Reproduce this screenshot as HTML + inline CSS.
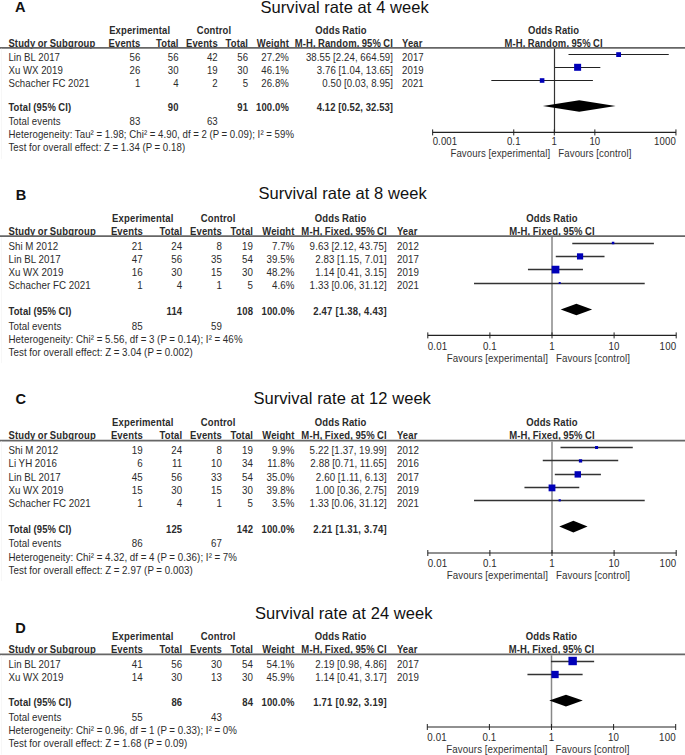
<!DOCTYPE html>
<html><head><meta charset="utf-8"><style>
html,body{margin:0;padding:0;background:#fff;width:685px;height:755px;overflow:hidden}
svg{display:block;font-family:"Liberation Sans",sans-serif}
</style></head><body>
<svg width="685" height="755" viewBox="0 0 685 755">
<rect width="685" height="755" fill="#fff"/>
<text transform="translate(260.50,12.60) scale(1,1.0)" font-size="16.5" letter-spacing="0.06" fill="#111">Survival rate at 4 week</text>
<text transform="translate(15.00,12.20) scale(1,1.0)" font-size="14.6" font-weight="bold" fill="#111">A</text>
<text transform="translate(139.70,34.10) scale(1,1.08)" font-size="9.45" text-anchor="middle" font-weight="bold" letter-spacing="0.15" word-spacing="-0.5" fill="#2b2b2b">Experimental</text>
<text transform="translate(214.00,34.10) scale(1,1.08)" font-size="9.45" text-anchor="middle" font-weight="bold" letter-spacing="0.15" word-spacing="-0.5" fill="#2b2b2b">Control</text>
<text transform="translate(341.00,34.10) scale(1,1.08)" font-size="9.45" text-anchor="middle" font-weight="bold" letter-spacing="0.15" word-spacing="-0.5" fill="#2b2b2b">Odds Ratio</text>
<text transform="translate(553.60,34.10) scale(1,1.08)" font-size="9.45" text-anchor="middle" font-weight="bold" letter-spacing="0.15" word-spacing="-0.5" fill="#2b2b2b">Odds Ratio</text>
<text transform="translate(8.40,46.50) scale(1,1.08)" font-size="9.45" font-weight="bold" letter-spacing="0.15" word-spacing="-0.5" fill="#2b2b2b">Study or Subgroup</text>
<text transform="translate(140.40,46.50) scale(1,1.08)" font-size="9.45" text-anchor="end" font-weight="bold" letter-spacing="0.15" word-spacing="-0.5" fill="#2b2b2b">Events</text>
<text transform="translate(178.60,46.50) scale(1,1.08)" font-size="9.45" text-anchor="end" font-weight="bold" letter-spacing="0.15" word-spacing="-0.5" fill="#2b2b2b">Total</text>
<text transform="translate(217.80,46.50) scale(1,1.08)" font-size="9.45" text-anchor="end" font-weight="bold" letter-spacing="0.15" word-spacing="-0.5" fill="#2b2b2b">Events</text>
<text transform="translate(248.10,46.50) scale(1,1.08)" font-size="9.45" text-anchor="end" font-weight="bold" letter-spacing="0.15" word-spacing="-0.5" fill="#2b2b2b">Total</text>
<text transform="translate(289.00,46.50) scale(1,1.08)" font-size="9.45" text-anchor="end" font-weight="bold" letter-spacing="0.15" word-spacing="-0.5" fill="#2b2b2b">Weight</text>
<text transform="translate(393.10,46.50) scale(1,1.08)" font-size="9.45" text-anchor="end" font-weight="bold" letter-spacing="0.15" word-spacing="-0.5" fill="#2b2b2b">M-H, Random, 95% CI</text>
<text transform="translate(402.00,46.50) scale(1,1.08)" font-size="9.45" font-weight="bold" letter-spacing="0.15" word-spacing="-0.5" fill="#2b2b2b">Year</text>
<text transform="translate(553.60,46.50) scale(1,1.08)" font-size="9.45" text-anchor="middle" font-weight="bold" letter-spacing="0.15" word-spacing="-0.5" fill="#2b2b2b">M-H, Random, 95% CI</text>
<line x1="0.00" y1="47.80" x2="685.00" y2="47.80" stroke="#666" stroke-width="1.8"/>
<line x1="1.50" y1="48.80" x2="1.50" y2="159.20" stroke="#f7f7f7" stroke-width="1"/>
<line x1="554.50" y1="48.60" x2="554.50" y2="132.40" stroke="#333" stroke-width="1.2"/>
<text transform="translate(8.40,61.00) scale(1,1.08)" font-size="9.62" letter-spacing="0.11" word-spacing="-0.25" fill="#2b2b2b">Lin BL 2017</text>
<text transform="translate(140.40,61.00) scale(1,1.08)" font-size="9.62" text-anchor="end" letter-spacing="0.11" word-spacing="-0.25" fill="#2b2b2b">56</text>
<text transform="translate(178.60,61.00) scale(1,1.08)" font-size="9.62" text-anchor="end" letter-spacing="0.11" word-spacing="-0.25" fill="#2b2b2b">56</text>
<text transform="translate(217.80,61.00) scale(1,1.08)" font-size="9.62" text-anchor="end" letter-spacing="0.11" word-spacing="-0.25" fill="#2b2b2b">42</text>
<text transform="translate(248.10,61.00) scale(1,1.08)" font-size="9.62" text-anchor="end" letter-spacing="0.11" word-spacing="-0.25" fill="#2b2b2b">56</text>
<text transform="translate(289.00,61.00) scale(1,1.08)" font-size="9.62" text-anchor="end" letter-spacing="0.11" word-spacing="-0.25" fill="#2b2b2b">27.2%</text>
<text transform="translate(393.10,61.00) scale(1,1.08)" font-size="9.62" text-anchor="end" letter-spacing="0.11" word-spacing="-0.25" fill="#2b2b2b">38.55 [2.24, 664.59]</text>
<text transform="translate(402.00,61.00) scale(1,1.08)" font-size="9.62" letter-spacing="0.11" word-spacing="-0.25" fill="#2b2b2b">2017</text>
<line x1="568.50" y1="54.50" x2="668.75" y2="54.50" stroke="#222" stroke-width="1.15"/>
<rect x="616.21" y="52.20" width="4.80" height="4.80" fill="#0000b8"/>
<text transform="translate(8.40,74.10) scale(1,1.08)" font-size="9.62" letter-spacing="0.11" word-spacing="-0.25" fill="#2b2b2b">Xu WX 2019</text>
<text transform="translate(140.40,74.10) scale(1,1.08)" font-size="9.62" text-anchor="end" letter-spacing="0.11" word-spacing="-0.25" fill="#2b2b2b">26</text>
<text transform="translate(178.60,74.10) scale(1,1.08)" font-size="9.62" text-anchor="end" letter-spacing="0.11" word-spacing="-0.25" fill="#2b2b2b">30</text>
<text transform="translate(217.80,74.10) scale(1,1.08)" font-size="9.62" text-anchor="end" letter-spacing="0.11" word-spacing="-0.25" fill="#2b2b2b">19</text>
<text transform="translate(248.10,74.10) scale(1,1.08)" font-size="9.62" text-anchor="end" letter-spacing="0.11" word-spacing="-0.25" fill="#2b2b2b">30</text>
<text transform="translate(289.00,74.10) scale(1,1.08)" font-size="9.62" text-anchor="end" letter-spacing="0.11" word-spacing="-0.25" fill="#2b2b2b">46.1%</text>
<text transform="translate(393.10,74.10) scale(1,1.08)" font-size="9.62" text-anchor="end" letter-spacing="0.11" word-spacing="-0.25" fill="#2b2b2b">3.76 [1.04, 13.65]</text>
<text transform="translate(402.00,74.10) scale(1,1.08)" font-size="9.62" letter-spacing="0.11" word-spacing="-0.25" fill="#2b2b2b">2019</text>
<line x1="554.99" y1="67.50" x2="600.33" y2="67.50" stroke="#222" stroke-width="1.15"/>
<rect x="574.12" y="63.80" width="7.00" height="7.00" fill="#0000b8"/>
<text transform="translate(8.40,87.00) scale(1,1.08)" font-size="9.62" letter-spacing="0.11" word-spacing="-0.25" fill="#2b2b2b">Schacher FC 2021</text>
<text transform="translate(140.40,87.00) scale(1,1.08)" font-size="9.62" text-anchor="end" letter-spacing="0.11" word-spacing="-0.25" fill="#2b2b2b">1</text>
<text transform="translate(178.60,87.00) scale(1,1.08)" font-size="9.62" text-anchor="end" letter-spacing="0.11" word-spacing="-0.25" fill="#2b2b2b">4</text>
<text transform="translate(217.80,87.00) scale(1,1.08)" font-size="9.62" text-anchor="end" letter-spacing="0.11" word-spacing="-0.25" fill="#2b2b2b">2</text>
<text transform="translate(248.10,87.00) scale(1,1.08)" font-size="9.62" text-anchor="end" letter-spacing="0.11" word-spacing="-0.25" fill="#2b2b2b">5</text>
<text transform="translate(289.00,87.00) scale(1,1.08)" font-size="9.62" text-anchor="end" letter-spacing="0.11" word-spacing="-0.25" fill="#2b2b2b">26.8%</text>
<text transform="translate(393.10,87.00) scale(1,1.08)" font-size="9.62" text-anchor="end" letter-spacing="0.11" word-spacing="-0.25" fill="#2b2b2b">0.50 [0.03, 8.95]</text>
<text transform="translate(402.00,87.00) scale(1,1.08)" font-size="9.62" letter-spacing="0.11" word-spacing="-0.25" fill="#2b2b2b">2021</text>
<line x1="491.33" y1="80.50" x2="592.90" y2="80.50" stroke="#222" stroke-width="1.15"/>
<rect x="539.79" y="78.20" width="4.60" height="4.60" fill="#0000b8"/>
<text transform="translate(8.40,111.40) scale(1,1.08)" font-size="9.45" font-weight="bold" letter-spacing="0.15" word-spacing="-0.5" fill="#2b2b2b">Total (95% CI)</text>
<text transform="translate(178.60,111.40) scale(1,1.08)" font-size="9.45" text-anchor="end" font-weight="bold" letter-spacing="0.15" word-spacing="-0.5" fill="#2b2b2b">90</text>
<text transform="translate(248.10,111.40) scale(1,1.08)" font-size="9.45" text-anchor="end" font-weight="bold" letter-spacing="0.15" word-spacing="-0.5" fill="#2b2b2b">91</text>
<text transform="translate(289.00,111.40) scale(1,1.08)" font-size="9.45" text-anchor="end" font-weight="bold" letter-spacing="0.15" word-spacing="-0.5" fill="#2b2b2b">100.0%</text>
<text transform="translate(393.10,111.40) scale(1,1.08)" font-size="9.45" text-anchor="end" font-weight="bold" letter-spacing="0.1" fill="#2b2b2b">4.12 [0.52, 32.53]</text>
<text transform="translate(8.40,125.20) scale(1,1.08)" font-size="9.62" letter-spacing="0.11" word-spacing="-0.25" fill="#2b2b2b">Total events</text>
<text transform="translate(140.40,125.20) scale(1,1.08)" font-size="9.62" text-anchor="end" letter-spacing="0.11" word-spacing="-0.25" fill="#2b2b2b">83</text>
<text transform="translate(217.80,125.20) scale(1,1.08)" font-size="9.62" text-anchor="end" letter-spacing="0.11" word-spacing="-0.25" fill="#2b2b2b">63</text>
<text transform="translate(8.40,138.40) scale(1,1.08)" font-size="9.62" letter-spacing="0.11" word-spacing="-0.25" fill="#2b2b2b">Heterogeneity: Tau² = 1.98; Chi² = 4.90, df = 2 (P = 0.09); I² = 59%</text>
<text transform="translate(8.40,151.20) scale(1,1.08)" font-size="9.62" letter-spacing="0.11" word-spacing="-0.25" fill="#2b2b2b">Test for overall effect: Z = 1.34 (P = 0.18)</text>
<polygon points="542.78,106.00 579.23,100.20 615.62,106.00 579.23,111.80" fill="#000"/>
<line x1="432.65" y1="132.40" x2="675.95" y2="132.40" stroke="#222" stroke-width="1.2"/>
<line x1="432.65" y1="129.40" x2="432.65" y2="135.40" stroke="#222" stroke-width="1"/>
<text transform="translate(432.65,144.60) scale(1,1.08)" font-size="9.62" letter-spacing="0.11" word-spacing="-0.25" fill="#2b2b2b">0.001</text>
<line x1="513.75" y1="129.40" x2="513.75" y2="135.40" stroke="#222" stroke-width="1"/>
<text transform="translate(513.75,144.60) scale(1,1.08)" font-size="9.62" text-anchor="middle" letter-spacing="0.11" word-spacing="-0.25" fill="#2b2b2b">0.1</text>
<line x1="554.30" y1="129.40" x2="554.30" y2="135.40" stroke="#222" stroke-width="1"/>
<text transform="translate(554.30,144.60) scale(1,1.08)" font-size="9.62" text-anchor="middle" letter-spacing="0.11" word-spacing="-0.25" fill="#2b2b2b">1</text>
<line x1="594.85" y1="129.40" x2="594.85" y2="135.40" stroke="#222" stroke-width="1"/>
<text transform="translate(594.85,144.60) scale(1,1.08)" font-size="9.62" text-anchor="middle" letter-spacing="0.11" word-spacing="-0.25" fill="#2b2b2b">10</text>
<line x1="675.95" y1="129.40" x2="675.95" y2="135.40" stroke="#222" stroke-width="1"/>
<text transform="translate(675.95,144.60) scale(1,1.08)" font-size="9.62" text-anchor="end" letter-spacing="0.11" word-spacing="-0.25" fill="#2b2b2b">1000</text>
<text transform="translate(550.30,156.90) scale(1,1.08)" font-size="9.62" text-anchor="end" letter-spacing="0.11" word-spacing="-0.25" fill="#333">Favours [experimental]</text>
<text transform="translate(558.30,156.90) scale(1,1.08)" font-size="9.62" letter-spacing="0.11" word-spacing="-0.25" fill="#333">Favours [control]</text>
<text transform="translate(258.40,199.10) scale(1,1.0)" font-size="16.5" letter-spacing="0.06" fill="#111">Survival rate at 8 week</text>
<text transform="translate(15.80,199.80) scale(1,1.0)" font-size="14.6" font-weight="bold" fill="#111">B</text>
<text transform="translate(142.80,221.90) scale(1,1.08)" font-size="9.5" text-anchor="middle" font-weight="bold" letter-spacing="0.15" word-spacing="-0.5" fill="#2b2b2b">Experimental</text>
<text transform="translate(218.20,221.90) scale(1,1.08)" font-size="9.5" text-anchor="middle" font-weight="bold" letter-spacing="0.15" word-spacing="-0.5" fill="#2b2b2b">Control</text>
<text transform="translate(340.60,221.90) scale(1,1.08)" font-size="9.5" text-anchor="middle" font-weight="bold" letter-spacing="0.15" word-spacing="-0.5" fill="#2b2b2b">Odds Ratio</text>
<text transform="translate(552.00,221.90) scale(1,1.08)" font-size="9.5" text-anchor="middle" font-weight="bold" letter-spacing="0.15" word-spacing="-0.5" fill="#2b2b2b">Odds Ratio</text>
<text transform="translate(8.40,234.90) scale(1,1.08)" font-size="9.5" font-weight="bold" letter-spacing="0.15" word-spacing="-0.5" fill="#2b2b2b">Study or Subgroup</text>
<text transform="translate(142.90,234.90) scale(1,1.08)" font-size="9.5" text-anchor="end" font-weight="bold" letter-spacing="0.15" word-spacing="-0.5" fill="#2b2b2b">Events</text>
<text transform="translate(182.30,234.90) scale(1,1.08)" font-size="9.5" text-anchor="end" font-weight="bold" letter-spacing="0.15" word-spacing="-0.5" fill="#2b2b2b">Total</text>
<text transform="translate(222.00,234.90) scale(1,1.08)" font-size="9.5" text-anchor="end" font-weight="bold" letter-spacing="0.15" word-spacing="-0.5" fill="#2b2b2b">Events</text>
<text transform="translate(253.10,234.90) scale(1,1.08)" font-size="9.5" text-anchor="end" font-weight="bold" letter-spacing="0.15" word-spacing="-0.5" fill="#2b2b2b">Total</text>
<text transform="translate(294.60,234.90) scale(1,1.08)" font-size="9.5" text-anchor="end" font-weight="bold" letter-spacing="0.15" word-spacing="-0.5" fill="#2b2b2b">Weight</text>
<text transform="translate(386.90,234.90) scale(1,1.08)" font-size="9.5" text-anchor="end" font-weight="bold" letter-spacing="0.15" word-spacing="-0.5" fill="#2b2b2b">M-H, Fixed, 95% CI</text>
<text transform="translate(396.90,234.90) scale(1,1.08)" font-size="9.5" font-weight="bold" letter-spacing="0.15" word-spacing="-0.5" fill="#2b2b2b">Year</text>
<text transform="translate(552.00,234.90) scale(1,1.08)" font-size="9.5" text-anchor="middle" font-weight="bold" letter-spacing="0.15" word-spacing="-0.5" fill="#2b2b2b">M-H, Fixed, 95% CI</text>
<line x1="0.00" y1="236.20" x2="685.00" y2="236.20" stroke="#666" stroke-width="1.8"/>
<line x1="1.50" y1="237.20" x2="1.50" y2="363.20" stroke="#f7f7f7" stroke-width="1"/>
<line x1="552.00" y1="237.00" x2="552.00" y2="335.40" stroke="#888" stroke-width="1.5"/>
<text transform="translate(8.40,249.90) scale(1,1.08)" font-size="9.75" letter-spacing="0.12" word-spacing="-0.3" fill="#2b2b2b">Shi M 2012</text>
<text transform="translate(142.90,249.90) scale(1,1.08)" font-size="9.75" text-anchor="end" letter-spacing="0.12" word-spacing="-0.3" fill="#2b2b2b">21</text>
<text transform="translate(182.30,249.90) scale(1,1.08)" font-size="9.75" text-anchor="end" letter-spacing="0.12" word-spacing="-0.3" fill="#2b2b2b">24</text>
<text transform="translate(222.00,249.90) scale(1,1.08)" font-size="9.75" text-anchor="end" letter-spacing="0.12" word-spacing="-0.3" fill="#2b2b2b">8</text>
<text transform="translate(253.10,249.90) scale(1,1.08)" font-size="9.75" text-anchor="end" letter-spacing="0.12" word-spacing="-0.3" fill="#2b2b2b">19</text>
<text transform="translate(294.60,249.90) scale(1,1.08)" font-size="9.75" text-anchor="end" letter-spacing="0.12" word-spacing="-0.3" fill="#2b2b2b">7.7%</text>
<text transform="translate(386.90,249.90) scale(1,1.08)" font-size="9.75" text-anchor="end" letter-spacing="0.12" word-spacing="-0.3" fill="#2b2b2b">9.63 [2.12, 43.75]</text>
<text transform="translate(396.90,249.90) scale(1,1.08)" font-size="9.75" letter-spacing="0.12" word-spacing="-0.3" fill="#2b2b2b">2012</text>
<line x1="572.27" y1="243.50" x2="653.90" y2="243.50" stroke="#333" stroke-width="1.3"/>
<rect x="611.83" y="241.75" width="2.50" height="2.50" fill="#0000b8"/>
<text transform="translate(8.40,262.80) scale(1,1.08)" font-size="9.75" letter-spacing="0.12" word-spacing="-0.3" fill="#2b2b2b">Lin BL 2017</text>
<text transform="translate(142.90,262.80) scale(1,1.08)" font-size="9.75" text-anchor="end" letter-spacing="0.12" word-spacing="-0.3" fill="#2b2b2b">47</text>
<text transform="translate(182.30,262.80) scale(1,1.08)" font-size="9.75" text-anchor="end" letter-spacing="0.12" word-spacing="-0.3" fill="#2b2b2b">56</text>
<text transform="translate(222.00,262.80) scale(1,1.08)" font-size="9.75" text-anchor="end" letter-spacing="0.12" word-spacing="-0.3" fill="#2b2b2b">35</text>
<text transform="translate(253.10,262.80) scale(1,1.08)" font-size="9.75" text-anchor="end" letter-spacing="0.12" word-spacing="-0.3" fill="#2b2b2b">54</text>
<text transform="translate(294.60,262.80) scale(1,1.08)" font-size="9.75" text-anchor="end" letter-spacing="0.12" word-spacing="-0.3" fill="#2b2b2b">39.5%</text>
<text transform="translate(386.90,262.80) scale(1,1.08)" font-size="9.75" text-anchor="end" letter-spacing="0.12" word-spacing="-0.3" fill="#2b2b2b">2.83 [1.15, 7.01]</text>
<text transform="translate(396.90,262.80) scale(1,1.08)" font-size="9.75" letter-spacing="0.12" word-spacing="-0.3" fill="#2b2b2b">2017</text>
<line x1="555.77" y1="256.50" x2="604.52" y2="256.50" stroke="#333" stroke-width="1.3"/>
<rect x="576.96" y="253.30" width="6.20" height="6.20" fill="#0000b8"/>
<text transform="translate(8.40,275.90) scale(1,1.08)" font-size="9.75" letter-spacing="0.12" word-spacing="-0.3" fill="#2b2b2b">Xu WX 2019</text>
<text transform="translate(142.90,275.90) scale(1,1.08)" font-size="9.75" text-anchor="end" letter-spacing="0.12" word-spacing="-0.3" fill="#2b2b2b">16</text>
<text transform="translate(182.30,275.90) scale(1,1.08)" font-size="9.75" text-anchor="end" letter-spacing="0.12" word-spacing="-0.3" fill="#2b2b2b">30</text>
<text transform="translate(222.00,275.90) scale(1,1.08)" font-size="9.75" text-anchor="end" letter-spacing="0.12" word-spacing="-0.3" fill="#2b2b2b">15</text>
<text transform="translate(253.10,275.90) scale(1,1.08)" font-size="9.75" text-anchor="end" letter-spacing="0.12" word-spacing="-0.3" fill="#2b2b2b">30</text>
<text transform="translate(294.60,275.90) scale(1,1.08)" font-size="9.75" text-anchor="end" letter-spacing="0.12" word-spacing="-0.3" fill="#2b2b2b">48.2%</text>
<text transform="translate(386.90,275.90) scale(1,1.08)" font-size="9.75" text-anchor="end" letter-spacing="0.12" word-spacing="-0.3" fill="#2b2b2b">1.14 [0.41, 3.15]</text>
<text transform="translate(396.90,275.90) scale(1,1.08)" font-size="9.75" letter-spacing="0.12" word-spacing="-0.3" fill="#2b2b2b">2019</text>
<line x1="527.95" y1="269.50" x2="582.95" y2="269.50" stroke="#333" stroke-width="1.3"/>
<rect x="551.68" y="265.75" width="7.70" height="7.70" fill="#0000b8"/>
<text transform="translate(8.40,288.80) scale(1,1.08)" font-size="9.75" letter-spacing="0.12" word-spacing="-0.3" fill="#2b2b2b">Schacher FC 2021</text>
<text transform="translate(142.90,288.80) scale(1,1.08)" font-size="9.75" text-anchor="end" letter-spacing="0.12" word-spacing="-0.3" fill="#2b2b2b">1</text>
<text transform="translate(182.30,288.80) scale(1,1.08)" font-size="9.75" text-anchor="end" letter-spacing="0.12" word-spacing="-0.3" fill="#2b2b2b">4</text>
<text transform="translate(222.00,288.80) scale(1,1.08)" font-size="9.75" text-anchor="end" letter-spacing="0.12" word-spacing="-0.3" fill="#2b2b2b">1</text>
<text transform="translate(253.10,288.80) scale(1,1.08)" font-size="9.75" text-anchor="end" letter-spacing="0.12" word-spacing="-0.3" fill="#2b2b2b">5</text>
<text transform="translate(294.60,288.80) scale(1,1.08)" font-size="9.75" text-anchor="end" letter-spacing="0.12" word-spacing="-0.3" fill="#2b2b2b">4.6%</text>
<text transform="translate(386.90,288.80) scale(1,1.08)" font-size="9.75" text-anchor="end" letter-spacing="0.12" word-spacing="-0.3" fill="#2b2b2b">1.33 [0.06, 31.12]</text>
<text transform="translate(396.90,288.80) scale(1,1.08)" font-size="9.75" letter-spacing="0.12" word-spacing="-0.3" fill="#2b2b2b">2021</text>
<line x1="474.02" y1="283.50" x2="644.72" y2="283.50" stroke="#333" stroke-width="1.3"/>
<rect x="558.69" y="282.00" width="2.00" height="2.00" fill="#0000b8"/>
<text transform="translate(8.40,315.20) scale(1,1.08)" font-size="9.5" font-weight="bold" letter-spacing="0.15" word-spacing="-0.5" fill="#2b2b2b">Total (95% CI)</text>
<text transform="translate(182.30,315.20) scale(1,1.08)" font-size="9.5" text-anchor="end" font-weight="bold" letter-spacing="0.15" word-spacing="-0.5" fill="#2b2b2b">114</text>
<text transform="translate(253.10,315.20) scale(1,1.08)" font-size="9.5" text-anchor="end" font-weight="bold" letter-spacing="0.15" word-spacing="-0.5" fill="#2b2b2b">108</text>
<text transform="translate(294.60,315.20) scale(1,1.08)" font-size="9.5" text-anchor="end" font-weight="bold" letter-spacing="0.15" word-spacing="-0.5" fill="#2b2b2b">100.0%</text>
<text transform="translate(386.90,315.20) scale(1,1.08)" font-size="9.5" text-anchor="end" font-weight="bold" letter-spacing="0.24" fill="#2b2b2b">2.47 [1.38, 4.43]</text>
<text transform="translate(8.40,329.60) scale(1,1.08)" font-size="9.75" letter-spacing="0.12" word-spacing="-0.3" fill="#2b2b2b">Total events</text>
<text transform="translate(142.90,329.60) scale(1,1.08)" font-size="9.75" text-anchor="end" letter-spacing="0.12" word-spacing="-0.3" fill="#2b2b2b">85</text>
<text transform="translate(222.00,329.60) scale(1,1.08)" font-size="9.75" text-anchor="end" letter-spacing="0.12" word-spacing="-0.3" fill="#2b2b2b">59</text>
<text transform="translate(8.40,342.60) scale(1,1.08)" font-size="9.75" letter-spacing="0.12" word-spacing="-0.3" fill="#2b2b2b">Heterogeneity: Chi² = 5.56, df = 3 (P = 0.14); I² = 46%</text>
<text transform="translate(8.40,355.90) scale(1,1.08)" font-size="9.75" letter-spacing="0.12" word-spacing="-0.3" fill="#2b2b2b">Test for overall effect: Z = 3.04 (P = 0.002)</text>
<polygon points="560.69,309.50 576.39,303.70 592.14,309.50 576.39,315.30" fill="#000"/>
<line x1="427.80" y1="335.40" x2="676.20" y2="335.40" stroke="#222" stroke-width="1.2"/>
<line x1="427.80" y1="332.40" x2="427.80" y2="338.40" stroke="#222" stroke-width="1"/>
<text transform="translate(427.80,349.50) scale(1,1.08)" font-size="9.75" letter-spacing="0.12" word-spacing="-0.3" fill="#2b2b2b">0.01</text>
<line x1="489.90" y1="332.40" x2="489.90" y2="338.40" stroke="#222" stroke-width="1"/>
<text transform="translate(489.90,349.50) scale(1,1.08)" font-size="9.75" text-anchor="middle" letter-spacing="0.12" word-spacing="-0.3" fill="#2b2b2b">0.1</text>
<line x1="552.00" y1="332.40" x2="552.00" y2="338.40" stroke="#222" stroke-width="1"/>
<text transform="translate(552.00,349.50) scale(1,1.08)" font-size="9.75" text-anchor="middle" letter-spacing="0.12" word-spacing="-0.3" fill="#2b2b2b">1</text>
<line x1="614.10" y1="332.40" x2="614.10" y2="338.40" stroke="#222" stroke-width="1"/>
<text transform="translate(614.10,349.50) scale(1,1.08)" font-size="9.75" text-anchor="middle" letter-spacing="0.12" word-spacing="-0.3" fill="#2b2b2b">10</text>
<line x1="676.20" y1="332.40" x2="676.20" y2="338.40" stroke="#222" stroke-width="1"/>
<text transform="translate(676.20,349.50) scale(1,1.08)" font-size="9.75" text-anchor="end" letter-spacing="0.12" word-spacing="-0.3" fill="#2b2b2b">100</text>
<text transform="translate(548.00,361.80) scale(1,1.08)" font-size="9.75" text-anchor="end" letter-spacing="0.12" word-spacing="-0.3" fill="#333">Favours [experimental]</text>
<text transform="translate(556.00,361.80) scale(1,1.08)" font-size="9.75" letter-spacing="0.12" word-spacing="-0.3" fill="#333">Favours [control]</text>
<text transform="translate(253.40,404.30) scale(1,1.0)" font-size="16.5" letter-spacing="0.06" fill="#111">Survival rate at 12 week</text>
<text transform="translate(15.60,404.20) scale(1,1.0)" font-size="14.6" font-weight="bold" fill="#111">C</text>
<text transform="translate(142.80,426.10) scale(1,1.08)" font-size="9.5" text-anchor="middle" font-weight="bold" letter-spacing="0.15" word-spacing="-0.5" fill="#2b2b2b">Experimental</text>
<text transform="translate(218.20,426.10) scale(1,1.08)" font-size="9.5" text-anchor="middle" font-weight="bold" letter-spacing="0.15" word-spacing="-0.5" fill="#2b2b2b">Control</text>
<text transform="translate(340.60,426.10) scale(1,1.08)" font-size="9.5" text-anchor="middle" font-weight="bold" letter-spacing="0.15" word-spacing="-0.5" fill="#2b2b2b">Odds Ratio</text>
<text transform="translate(552.00,426.10) scale(1,1.08)" font-size="9.5" text-anchor="middle" font-weight="bold" letter-spacing="0.15" word-spacing="-0.5" fill="#2b2b2b">Odds Ratio</text>
<text transform="translate(8.40,439.20) scale(1,1.08)" font-size="9.5" font-weight="bold" letter-spacing="0.15" word-spacing="-0.5" fill="#2b2b2b">Study or Subgroup</text>
<text transform="translate(142.90,439.20) scale(1,1.08)" font-size="9.5" text-anchor="end" font-weight="bold" letter-spacing="0.15" word-spacing="-0.5" fill="#2b2b2b">Events</text>
<text transform="translate(182.30,439.20) scale(1,1.08)" font-size="9.5" text-anchor="end" font-weight="bold" letter-spacing="0.15" word-spacing="-0.5" fill="#2b2b2b">Total</text>
<text transform="translate(222.00,439.20) scale(1,1.08)" font-size="9.5" text-anchor="end" font-weight="bold" letter-spacing="0.15" word-spacing="-0.5" fill="#2b2b2b">Events</text>
<text transform="translate(253.10,439.20) scale(1,1.08)" font-size="9.5" text-anchor="end" font-weight="bold" letter-spacing="0.15" word-spacing="-0.5" fill="#2b2b2b">Total</text>
<text transform="translate(294.60,439.20) scale(1,1.08)" font-size="9.5" text-anchor="end" font-weight="bold" letter-spacing="0.15" word-spacing="-0.5" fill="#2b2b2b">Weight</text>
<text transform="translate(386.90,439.20) scale(1,1.08)" font-size="9.5" text-anchor="end" font-weight="bold" letter-spacing="0.15" word-spacing="-0.5" fill="#2b2b2b">M-H, Fixed, 95% CI</text>
<text transform="translate(396.90,439.20) scale(1,1.08)" font-size="9.5" font-weight="bold" letter-spacing="0.15" word-spacing="-0.5" fill="#2b2b2b">Year</text>
<text transform="translate(552.00,439.20) scale(1,1.08)" font-size="9.5" text-anchor="middle" font-weight="bold" letter-spacing="0.15" word-spacing="-0.5" fill="#2b2b2b">M-H, Fixed, 95% CI</text>
<line x1="0.00" y1="440.60" x2="685.00" y2="440.60" stroke="#666" stroke-width="1.8"/>
<line x1="1.50" y1="441.60" x2="1.50" y2="581.10" stroke="#f7f7f7" stroke-width="1"/>
<line x1="552.00" y1="441.40" x2="552.00" y2="553.00" stroke="#888" stroke-width="1.5"/>
<text transform="translate(8.40,454.10) scale(1,1.08)" font-size="9.75" letter-spacing="0.12" word-spacing="-0.3" fill="#2b2b2b">Shi M 2012</text>
<text transform="translate(142.90,454.10) scale(1,1.08)" font-size="9.75" text-anchor="end" letter-spacing="0.12" word-spacing="-0.3" fill="#2b2b2b">19</text>
<text transform="translate(182.30,454.10) scale(1,1.08)" font-size="9.75" text-anchor="end" letter-spacing="0.12" word-spacing="-0.3" fill="#2b2b2b">24</text>
<text transform="translate(222.00,454.10) scale(1,1.08)" font-size="9.75" text-anchor="end" letter-spacing="0.12" word-spacing="-0.3" fill="#2b2b2b">8</text>
<text transform="translate(253.10,454.10) scale(1,1.08)" font-size="9.75" text-anchor="end" letter-spacing="0.12" word-spacing="-0.3" fill="#2b2b2b">19</text>
<text transform="translate(294.60,454.10) scale(1,1.08)" font-size="9.75" text-anchor="end" letter-spacing="0.12" word-spacing="-0.3" fill="#2b2b2b">9.9%</text>
<text transform="translate(386.90,454.10) scale(1,1.08)" font-size="9.75" text-anchor="end" letter-spacing="0.12" word-spacing="-0.3" fill="#2b2b2b">5.22 [1.37, 19.99]</text>
<text transform="translate(396.90,454.10) scale(1,1.08)" font-size="9.75" letter-spacing="0.12" word-spacing="-0.3" fill="#2b2b2b">2012</text>
<line x1="560.49" y1="447.50" x2="632.78" y2="447.50" stroke="#333" stroke-width="1.3"/>
<rect x="595.07" y="446.00" width="3.00" height="3.00" fill="#0000b8"/>
<text transform="translate(8.40,467.30) scale(1,1.08)" font-size="9.75" letter-spacing="0.12" word-spacing="-0.3" fill="#2b2b2b">Li YH 2016</text>
<text transform="translate(142.90,467.30) scale(1,1.08)" font-size="9.75" text-anchor="end" letter-spacing="0.12" word-spacing="-0.3" fill="#2b2b2b">6</text>
<text transform="translate(182.30,467.30) scale(1,1.08)" font-size="9.75" text-anchor="end" letter-spacing="0.12" word-spacing="-0.3" fill="#2b2b2b">11</text>
<text transform="translate(222.00,467.30) scale(1,1.08)" font-size="9.75" text-anchor="end" letter-spacing="0.12" word-spacing="-0.3" fill="#2b2b2b">10</text>
<text transform="translate(253.10,467.30) scale(1,1.08)" font-size="9.75" text-anchor="end" letter-spacing="0.12" word-spacing="-0.3" fill="#2b2b2b">34</text>
<text transform="translate(294.60,467.30) scale(1,1.08)" font-size="9.75" text-anchor="end" letter-spacing="0.12" word-spacing="-0.3" fill="#2b2b2b">11.8%</text>
<text transform="translate(386.90,467.30) scale(1,1.08)" font-size="9.75" text-anchor="end" letter-spacing="0.12" word-spacing="-0.3" fill="#2b2b2b">2.88 [0.71, 11.65]</text>
<text transform="translate(396.90,467.30) scale(1,1.08)" font-size="9.75" letter-spacing="0.12" word-spacing="-0.3" fill="#2b2b2b">2016</text>
<line x1="542.76" y1="460.50" x2="618.22" y2="460.50" stroke="#333" stroke-width="1.3"/>
<rect x="578.88" y="459.25" width="3.30" height="3.30" fill="#0000b8"/>
<text transform="translate(8.40,480.70) scale(1,1.08)" font-size="9.75" letter-spacing="0.12" word-spacing="-0.3" fill="#2b2b2b">Lin BL 2017</text>
<text transform="translate(142.90,480.70) scale(1,1.08)" font-size="9.75" text-anchor="end" letter-spacing="0.12" word-spacing="-0.3" fill="#2b2b2b">45</text>
<text transform="translate(182.30,480.70) scale(1,1.08)" font-size="9.75" text-anchor="end" letter-spacing="0.12" word-spacing="-0.3" fill="#2b2b2b">56</text>
<text transform="translate(222.00,480.70) scale(1,1.08)" font-size="9.75" text-anchor="end" letter-spacing="0.12" word-spacing="-0.3" fill="#2b2b2b">33</text>
<text transform="translate(253.10,480.70) scale(1,1.08)" font-size="9.75" text-anchor="end" letter-spacing="0.12" word-spacing="-0.3" fill="#2b2b2b">54</text>
<text transform="translate(294.60,480.70) scale(1,1.08)" font-size="9.75" text-anchor="end" letter-spacing="0.12" word-spacing="-0.3" fill="#2b2b2b">35.0%</text>
<text transform="translate(386.90,480.70) scale(1,1.08)" font-size="9.75" text-anchor="end" letter-spacing="0.12" word-spacing="-0.3" fill="#2b2b2b">2.60 [1.11, 6.13]</text>
<text transform="translate(396.90,480.70) scale(1,1.08)" font-size="9.75" letter-spacing="0.12" word-spacing="-0.3" fill="#2b2b2b">2017</text>
<line x1="554.81" y1="474.50" x2="600.90" y2="474.50" stroke="#333" stroke-width="1.3"/>
<rect x="574.57" y="471.20" width="6.40" height="6.40" fill="#0000b8"/>
<text transform="translate(8.40,493.80) scale(1,1.08)" font-size="9.75" letter-spacing="0.12" word-spacing="-0.3" fill="#2b2b2b">Xu WX 2019</text>
<text transform="translate(142.90,493.80) scale(1,1.08)" font-size="9.75" text-anchor="end" letter-spacing="0.12" word-spacing="-0.3" fill="#2b2b2b">15</text>
<text transform="translate(182.30,493.80) scale(1,1.08)" font-size="9.75" text-anchor="end" letter-spacing="0.12" word-spacing="-0.3" fill="#2b2b2b">30</text>
<text transform="translate(222.00,493.80) scale(1,1.08)" font-size="9.75" text-anchor="end" letter-spacing="0.12" word-spacing="-0.3" fill="#2b2b2b">15</text>
<text transform="translate(253.10,493.80) scale(1,1.08)" font-size="9.75" text-anchor="end" letter-spacing="0.12" word-spacing="-0.3" fill="#2b2b2b">30</text>
<text transform="translate(294.60,493.80) scale(1,1.08)" font-size="9.75" text-anchor="end" letter-spacing="0.12" word-spacing="-0.3" fill="#2b2b2b">39.8%</text>
<text transform="translate(386.90,493.80) scale(1,1.08)" font-size="9.75" text-anchor="end" letter-spacing="0.12" word-spacing="-0.3" fill="#2b2b2b">1.00 [0.36, 2.75]</text>
<text transform="translate(396.90,493.80) scale(1,1.08)" font-size="9.75" letter-spacing="0.12" word-spacing="-0.3" fill="#2b2b2b">2019</text>
<line x1="524.45" y1="487.50" x2="579.28" y2="487.50" stroke="#333" stroke-width="1.3"/>
<rect x="548.60" y="484.50" width="6.80" height="6.80" fill="#0000b8"/>
<text transform="translate(8.40,507.00) scale(1,1.08)" font-size="9.75" letter-spacing="0.12" word-spacing="-0.3" fill="#2b2b2b">Schacher FC 2021</text>
<text transform="translate(142.90,507.00) scale(1,1.08)" font-size="9.75" text-anchor="end" letter-spacing="0.12" word-spacing="-0.3" fill="#2b2b2b">1</text>
<text transform="translate(182.30,507.00) scale(1,1.08)" font-size="9.75" text-anchor="end" letter-spacing="0.12" word-spacing="-0.3" fill="#2b2b2b">4</text>
<text transform="translate(222.00,507.00) scale(1,1.08)" font-size="9.75" text-anchor="end" letter-spacing="0.12" word-spacing="-0.3" fill="#2b2b2b">1</text>
<text transform="translate(253.10,507.00) scale(1,1.08)" font-size="9.75" text-anchor="end" letter-spacing="0.12" word-spacing="-0.3" fill="#2b2b2b">5</text>
<text transform="translate(294.60,507.00) scale(1,1.08)" font-size="9.75" text-anchor="end" letter-spacing="0.12" word-spacing="-0.3" fill="#2b2b2b">3.5%</text>
<text transform="translate(386.90,507.00) scale(1,1.08)" font-size="9.75" text-anchor="end" letter-spacing="0.12" word-spacing="-0.3" fill="#2b2b2b">1.33 [0.06, 31.12]</text>
<text transform="translate(396.90,507.00) scale(1,1.08)" font-size="9.75" letter-spacing="0.12" word-spacing="-0.3" fill="#2b2b2b">2021</text>
<line x1="474.02" y1="500.50" x2="644.72" y2="500.50" stroke="#333" stroke-width="1.3"/>
<rect x="558.59" y="499.20" width="2.20" height="2.20" fill="#0000b8"/>
<text transform="translate(8.40,532.60) scale(1,1.08)" font-size="9.5" font-weight="bold" letter-spacing="0.15" word-spacing="-0.5" fill="#2b2b2b">Total (95% CI)</text>
<text transform="translate(182.30,532.60) scale(1,1.08)" font-size="9.5" text-anchor="end" font-weight="bold" letter-spacing="0.15" word-spacing="-0.5" fill="#2b2b2b">125</text>
<text transform="translate(253.10,532.60) scale(1,1.08)" font-size="9.5" text-anchor="end" font-weight="bold" letter-spacing="0.15" word-spacing="-0.5" fill="#2b2b2b">142</text>
<text transform="translate(294.60,532.60) scale(1,1.08)" font-size="9.5" text-anchor="end" font-weight="bold" letter-spacing="0.15" word-spacing="-0.5" fill="#2b2b2b">100.0%</text>
<text transform="translate(386.90,532.60) scale(1,1.08)" font-size="9.5" text-anchor="end" font-weight="bold" letter-spacing="0.24" fill="#2b2b2b">2.21 [1.31, 3.74]</text>
<text transform="translate(8.40,547.30) scale(1,1.08)" font-size="9.75" letter-spacing="0.12" word-spacing="-0.3" fill="#2b2b2b">Total events</text>
<text transform="translate(142.90,547.30) scale(1,1.08)" font-size="9.75" text-anchor="end" letter-spacing="0.12" word-spacing="-0.3" fill="#2b2b2b">86</text>
<text transform="translate(222.00,547.30) scale(1,1.08)" font-size="9.75" text-anchor="end" letter-spacing="0.12" word-spacing="-0.3" fill="#2b2b2b">67</text>
<text transform="translate(8.40,560.70) scale(1,1.08)" font-size="9.75" letter-spacing="0.12" word-spacing="-0.3" fill="#2b2b2b">Heterogeneity: Chi² = 4.32, df = 4 (P = 0.36); I² = 7%</text>
<text transform="translate(8.40,573.80) scale(1,1.08)" font-size="9.75" letter-spacing="0.12" word-spacing="-0.3" fill="#2b2b2b">Test for overall effect: Z = 2.97 (P = 0.003)</text>
<polygon points="559.28,526.60 573.39,520.80 587.58,526.60 573.39,532.40" fill="#000"/>
<line x1="427.80" y1="553.00" x2="676.20" y2="553.00" stroke="#222" stroke-width="1.2"/>
<line x1="427.80" y1="550.00" x2="427.80" y2="556.00" stroke="#222" stroke-width="1"/>
<text transform="translate(427.80,567.30) scale(1,1.08)" font-size="9.75" letter-spacing="0.12" word-spacing="-0.3" fill="#2b2b2b">0.01</text>
<line x1="489.90" y1="550.00" x2="489.90" y2="556.00" stroke="#222" stroke-width="1"/>
<text transform="translate(489.90,567.30) scale(1,1.08)" font-size="9.75" text-anchor="middle" letter-spacing="0.12" word-spacing="-0.3" fill="#2b2b2b">0.1</text>
<line x1="552.00" y1="550.00" x2="552.00" y2="556.00" stroke="#222" stroke-width="1"/>
<text transform="translate(552.00,567.30) scale(1,1.08)" font-size="9.75" text-anchor="middle" letter-spacing="0.12" word-spacing="-0.3" fill="#2b2b2b">1</text>
<line x1="614.10" y1="550.00" x2="614.10" y2="556.00" stroke="#222" stroke-width="1"/>
<text transform="translate(614.10,567.30) scale(1,1.08)" font-size="9.75" text-anchor="middle" letter-spacing="0.12" word-spacing="-0.3" fill="#2b2b2b">10</text>
<line x1="676.20" y1="550.00" x2="676.20" y2="556.00" stroke="#222" stroke-width="1"/>
<text transform="translate(676.20,567.30) scale(1,1.08)" font-size="9.75" text-anchor="end" letter-spacing="0.12" word-spacing="-0.3" fill="#2b2b2b">100</text>
<text transform="translate(548.00,579.30) scale(1,1.08)" font-size="9.75" text-anchor="end" letter-spacing="0.12" word-spacing="-0.3" fill="#333">Favours [experimental]</text>
<text transform="translate(556.00,579.30) scale(1,1.08)" font-size="9.75" letter-spacing="0.12" word-spacing="-0.3" fill="#333">Favours [control]</text>
<text transform="translate(255.00,618.50) scale(1,1.0)" font-size="16.5" letter-spacing="0.06" fill="#111">Survival rate at 24 week</text>
<text transform="translate(15.20,633.20) scale(1,1.0)" font-size="14.6" font-weight="bold" fill="#111">D</text>
<text transform="translate(142.80,639.70) scale(1,1.08)" font-size="9.5" text-anchor="middle" font-weight="bold" letter-spacing="0.15" word-spacing="-0.5" fill="#2b2b2b">Experimental</text>
<text transform="translate(218.20,639.70) scale(1,1.08)" font-size="9.5" text-anchor="middle" font-weight="bold" letter-spacing="0.15" word-spacing="-0.5" fill="#2b2b2b">Control</text>
<text transform="translate(340.60,639.70) scale(1,1.08)" font-size="9.5" text-anchor="middle" font-weight="bold" letter-spacing="0.15" word-spacing="-0.5" fill="#2b2b2b">Odds Ratio</text>
<text transform="translate(551.50,639.70) scale(1,1.08)" font-size="9.5" text-anchor="middle" font-weight="bold" letter-spacing="0.15" word-spacing="-0.5" fill="#2b2b2b">Odds Ratio</text>
<text transform="translate(8.40,653.00) scale(1,1.08)" font-size="9.5" font-weight="bold" letter-spacing="0.15" word-spacing="-0.5" fill="#2b2b2b">Study or Subgroup</text>
<text transform="translate(142.90,653.00) scale(1,1.08)" font-size="9.5" text-anchor="end" font-weight="bold" letter-spacing="0.15" word-spacing="-0.5" fill="#2b2b2b">Events</text>
<text transform="translate(182.30,653.00) scale(1,1.08)" font-size="9.5" text-anchor="end" font-weight="bold" letter-spacing="0.15" word-spacing="-0.5" fill="#2b2b2b">Total</text>
<text transform="translate(222.00,653.00) scale(1,1.08)" font-size="9.5" text-anchor="end" font-weight="bold" letter-spacing="0.15" word-spacing="-0.5" fill="#2b2b2b">Events</text>
<text transform="translate(253.10,653.00) scale(1,1.08)" font-size="9.5" text-anchor="end" font-weight="bold" letter-spacing="0.15" word-spacing="-0.5" fill="#2b2b2b">Total</text>
<text transform="translate(294.60,653.00) scale(1,1.08)" font-size="9.5" text-anchor="end" font-weight="bold" letter-spacing="0.15" word-spacing="-0.5" fill="#2b2b2b">Weight</text>
<text transform="translate(386.90,653.00) scale(1,1.08)" font-size="9.5" text-anchor="end" font-weight="bold" letter-spacing="0.15" word-spacing="-0.5" fill="#2b2b2b">M-H, Fixed, 95% CI</text>
<text transform="translate(396.90,653.00) scale(1,1.08)" font-size="9.5" font-weight="bold" letter-spacing="0.15" word-spacing="-0.5" fill="#2b2b2b">Year</text>
<text transform="translate(551.50,653.00) scale(1,1.08)" font-size="9.5" text-anchor="middle" font-weight="bold" letter-spacing="0.15" word-spacing="-0.5" fill="#2b2b2b">M-H, Fixed, 95% CI</text>
<line x1="0.00" y1="654.40" x2="685.00" y2="654.40" stroke="#666" stroke-width="1.8"/>
<line x1="1.50" y1="655.40" x2="1.50" y2="754.60" stroke="#f7f7f7" stroke-width="1"/>
<line x1="551.50" y1="655.20" x2="551.50" y2="727.00" stroke="#888" stroke-width="1.5"/>
<text transform="translate(8.40,667.90) scale(1,1.08)" font-size="9.75" letter-spacing="0.12" word-spacing="-0.3" fill="#2b2b2b">Lin BL 2017</text>
<text transform="translate(142.90,667.90) scale(1,1.08)" font-size="9.75" text-anchor="end" letter-spacing="0.12" word-spacing="-0.3" fill="#2b2b2b">41</text>
<text transform="translate(182.30,667.90) scale(1,1.08)" font-size="9.75" text-anchor="end" letter-spacing="0.12" word-spacing="-0.3" fill="#2b2b2b">56</text>
<text transform="translate(222.00,667.90) scale(1,1.08)" font-size="9.75" text-anchor="end" letter-spacing="0.12" word-spacing="-0.3" fill="#2b2b2b">30</text>
<text transform="translate(253.10,667.90) scale(1,1.08)" font-size="9.75" text-anchor="end" letter-spacing="0.12" word-spacing="-0.3" fill="#2b2b2b">54</text>
<text transform="translate(294.60,667.90) scale(1,1.08)" font-size="9.75" text-anchor="end" letter-spacing="0.12" word-spacing="-0.3" fill="#2b2b2b">54.1%</text>
<text transform="translate(386.90,667.90) scale(1,1.08)" font-size="9.75" text-anchor="end" letter-spacing="0.12" word-spacing="-0.3" fill="#2b2b2b">2.19 [0.98, 4.86]</text>
<text transform="translate(396.90,667.90) scale(1,1.08)" font-size="9.75" letter-spacing="0.12" word-spacing="-0.3" fill="#2b2b2b">2017</text>
<line x1="550.96" y1="661.50" x2="594.14" y2="661.50" stroke="#333" stroke-width="1.3"/>
<rect x="568.44" y="656.80" width="8.40" height="8.40" fill="#0000b8"/>
<text transform="translate(8.40,681.00) scale(1,1.08)" font-size="9.75" letter-spacing="0.12" word-spacing="-0.3" fill="#2b2b2b">Xu WX 2019</text>
<text transform="translate(142.90,681.00) scale(1,1.08)" font-size="9.75" text-anchor="end" letter-spacing="0.12" word-spacing="-0.3" fill="#2b2b2b">14</text>
<text transform="translate(182.30,681.00) scale(1,1.08)" font-size="9.75" text-anchor="end" letter-spacing="0.12" word-spacing="-0.3" fill="#2b2b2b">30</text>
<text transform="translate(222.00,681.00) scale(1,1.08)" font-size="9.75" text-anchor="end" letter-spacing="0.12" word-spacing="-0.3" fill="#2b2b2b">13</text>
<text transform="translate(253.10,681.00) scale(1,1.08)" font-size="9.75" text-anchor="end" letter-spacing="0.12" word-spacing="-0.3" fill="#2b2b2b">30</text>
<text transform="translate(294.60,681.00) scale(1,1.08)" font-size="9.75" text-anchor="end" letter-spacing="0.12" word-spacing="-0.3" fill="#2b2b2b">45.9%</text>
<text transform="translate(386.90,681.00) scale(1,1.08)" font-size="9.75" text-anchor="end" letter-spacing="0.12" word-spacing="-0.3" fill="#2b2b2b">1.14 [0.41, 3.17]</text>
<text transform="translate(396.90,681.00) scale(1,1.08)" font-size="9.75" letter-spacing="0.12" word-spacing="-0.3" fill="#2b2b2b">2019</text>
<line x1="527.45" y1="674.50" x2="582.62" y2="674.50" stroke="#333" stroke-width="1.3"/>
<rect x="551.38" y="670.85" width="7.30" height="7.30" fill="#0000b8"/>
<text transform="translate(8.40,706.40) scale(1,1.08)" font-size="9.5" font-weight="bold" letter-spacing="0.15" word-spacing="-0.5" fill="#2b2b2b">Total (95% CI)</text>
<text transform="translate(182.30,706.40) scale(1,1.08)" font-size="9.5" text-anchor="end" font-weight="bold" letter-spacing="0.15" word-spacing="-0.5" fill="#2b2b2b">86</text>
<text transform="translate(253.10,706.40) scale(1,1.08)" font-size="9.5" text-anchor="end" font-weight="bold" letter-spacing="0.15" word-spacing="-0.5" fill="#2b2b2b">84</text>
<text transform="translate(294.60,706.40) scale(1,1.08)" font-size="9.5" text-anchor="end" font-weight="bold" letter-spacing="0.15" word-spacing="-0.5" fill="#2b2b2b">100.0%</text>
<text transform="translate(386.90,706.40) scale(1,1.08)" font-size="9.5" text-anchor="end" font-weight="bold" letter-spacing="0.24" fill="#2b2b2b">1.71 [0.92, 3.19]</text>
<text transform="translate(8.40,720.90) scale(1,1.08)" font-size="9.75" letter-spacing="0.12" word-spacing="-0.3" fill="#2b2b2b">Total events</text>
<text transform="translate(142.90,720.90) scale(1,1.08)" font-size="9.75" text-anchor="end" letter-spacing="0.12" word-spacing="-0.3" fill="#2b2b2b">55</text>
<text transform="translate(222.00,720.90) scale(1,1.08)" font-size="9.75" text-anchor="end" letter-spacing="0.12" word-spacing="-0.3" fill="#2b2b2b">43</text>
<text transform="translate(8.40,733.80) scale(1,1.08)" font-size="9.75" letter-spacing="0.12" word-spacing="-0.3" fill="#2b2b2b">Heterogeneity: Chi² = 0.96, df = 1 (P = 0.33); I² = 0%</text>
<text transform="translate(8.40,747.30) scale(1,1.08)" font-size="9.75" letter-spacing="0.12" word-spacing="-0.3" fill="#2b2b2b">Test for overall effect: Z = 1.68 (P = 0.09)</text>
<polygon points="549.25,700.60 565.97,694.80 582.79,700.60 565.97,706.40" fill="#000"/>
<line x1="427.30" y1="727.00" x2="675.70" y2="727.00" stroke="#222" stroke-width="1.2"/>
<line x1="427.30" y1="724.00" x2="427.30" y2="730.00" stroke="#222" stroke-width="1"/>
<text transform="translate(427.30,740.70) scale(1,1.08)" font-size="9.75" letter-spacing="0.12" word-spacing="-0.3" fill="#2b2b2b">0.01</text>
<line x1="489.40" y1="724.00" x2="489.40" y2="730.00" stroke="#222" stroke-width="1"/>
<text transform="translate(489.40,740.70) scale(1,1.08)" font-size="9.75" text-anchor="middle" letter-spacing="0.12" word-spacing="-0.3" fill="#2b2b2b">0.1</text>
<line x1="551.50" y1="724.00" x2="551.50" y2="730.00" stroke="#222" stroke-width="1"/>
<text transform="translate(551.50,740.70) scale(1,1.08)" font-size="9.75" text-anchor="middle" letter-spacing="0.12" word-spacing="-0.3" fill="#2b2b2b">1</text>
<line x1="613.60" y1="724.00" x2="613.60" y2="730.00" stroke="#222" stroke-width="1"/>
<text transform="translate(613.60,740.70) scale(1,1.08)" font-size="9.75" text-anchor="middle" letter-spacing="0.12" word-spacing="-0.3" fill="#2b2b2b">10</text>
<line x1="675.70" y1="724.00" x2="675.70" y2="730.00" stroke="#222" stroke-width="1"/>
<text transform="translate(675.70,740.70) scale(1,1.08)" font-size="9.75" text-anchor="end" letter-spacing="0.12" word-spacing="-0.3" fill="#2b2b2b">100</text>
<text transform="translate(547.50,752.50) scale(1,1.08)" font-size="9.75" text-anchor="end" letter-spacing="0.12" word-spacing="-0.3" fill="#333">Favours [experimental]</text>
<text transform="translate(555.50,752.50) scale(1,1.08)" font-size="9.75" letter-spacing="0.12" word-spacing="-0.3" fill="#333">Favours [control]</text>
</svg></body></html>
